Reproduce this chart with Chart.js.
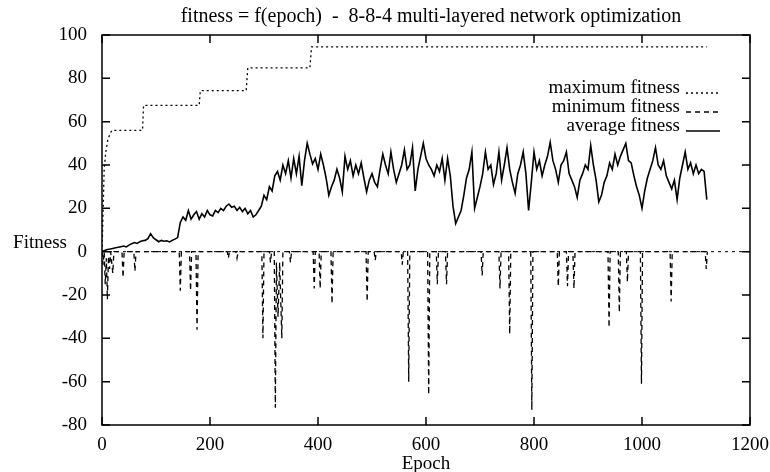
<!DOCTYPE html>
<html>
<head>
<meta charset="utf-8">
<script src="https://cdn.jsdelivr.net/npm/chart.js@4.4.0/dist/chart.umd.min.js"></script>
<style>
  html, body { margin: 0; padding: 0; background: #fff; }
  #wrap { width: 770px; height: 472px; position: relative; }
</style>
</head>
<body>
<div id="wrap"><canvas id="fitChart"></canvas></div>
<script>
// average fitness, one value every 5 epochs (0 .. 1120)
var avgStep = 5;
var avgFitness = [
  0, 0.5, 1, 1.2, 1.5, 1.8, 2, 2.3, 2.6, 2.2, 3, 3.7, 4.2, 3.8, 4.6, 5, 5.2, 6, 8.3, 6.5,
  5.5, 4.6, 5.2, 4.8, 5, 4.5, 5.2, 5.8, 6.5, 13.5, 16, 14.5, 19, 15, 17, 18.5, 15, 17.5, 16, 19,
  17, 16.5, 19, 18, 20, 19, 21, 22, 20.5, 21, 19, 20.5, 18.5, 20, 17.5, 19, 16, 17, 19, 21,
  26, 24, 30, 28, 35, 37, 33, 40, 36, 42, 34, 43, 36, 44, 30.5, 42, 50, 45, 40.5, 43,
  38, 45, 40, 34, 26, 30, 33, 38, 34, 27.6, 44, 38, 42, 35, 40, 36, 41, 34, 27.6, 33,
  36, 32, 30, 38, 45, 40, 36, 46, 38, 32, 36, 40, 47, 38, 40, 48, 28, 38, 44, 50,
  43, 40, 38, 35, 40, 37, 43, 33, 43, 35, 21, 13, 16, 19, 26, 34, 38, 46, 20, 25,
  30, 36, 46, 38, 40, 31, 36, 46, 33, 40, 48, 38, 32, 27, 36, 40, 46, 36, 19, 32,
  46, 38, 42, 35, 40, 44, 50.5, 42, 38, 32, 40, 42, 46, 36, 33, 30, 25, 33, 36, 40,
  38, 49, 40, 33, 23, 26, 32, 35, 41, 38, 45, 40, 44, 47, 50, 42, 41, 35, 30, 26,
  20, 28, 34, 38, 42, 48, 40, 38, 42, 35, 32, 29, 33, 24, 34, 40, 46, 38, 41, 36,
  40, 36, 38, 37, 24
];

// maximum fitness (step curve)
var maxEpoch   = [0, 2, 4, 7, 11, 18, 75, 77, 180, 182, 267, 270, 385, 388, 1120];
var maxFitness = [0, 18, 38, 46, 52, 56, 56, 67.5, 67.5, 74.3, 74.3, 84.8, 84.8, 94.5, 94.5];

// minimum fitness (mostly 0 with downward spikes)
var minEpoch = [
  0, 2, 4, 6, 8, 10, 12, 14, 16, 20, 22,
  37, 39, 41,   59, 61, 63,   143, 145, 147,   162, 164, 166,   174, 176, 178,
  232, 234, 236,   248, 250, 252,   296, 298, 300,   310, 312, 314,
  319, 321, 323, 326, 329, 333, 335,
  347, 349, 351,   391, 393, 395,   402, 404, 406,   424, 426, 428,
  489, 491, 493,   504, 506, 508,   554, 556, 558,   566, 568, 570,
  603, 605, 607,   619, 621, 623,   636, 638, 640,   702, 704, 706,
  735, 737, 739,   753, 755, 757,   794, 796, 798,   843, 845, 847,
  860, 862, 864,   872, 874, 876,   937, 939, 941,   956, 958, 960,
  971, 973, 975,   997, 999, 1001,   1052, 1054, 1056,   1117, 1119, 1121
];
var minFitness = [
  0, -6, 0, -15, -3, -22, -2, -8, 0, -10, 0,
  0, -12, 0,   0, -9, 0,   0, -18, 0,   0, -18, 0,   0, -36, 0,
  0, -3, 0,   0, -3, 0,   0, -40, 0,   0, -5, 0,
  0, -72, -5, -30, -5, -40, 0,
  0, -5, 0,   0, -17, 0,   0, -17, 0,   0, -24, 0,
  0, -23, 0,   0, -4, 0,   0, -6, 0,   0, -60, 0,
  0, -66, 0,   0, -15, 0,   0, -15, 0,   0, -11, 0,
  0, -17, 0,   0, -38, 0,   0, -73, 0,   0, -16, 0,
  0, -16, 0,   0, -17, 0,   0, -35, 0,   0, -28, 0,
  0, -14, 0,   0, -61, 0,   0, -23, 0,   0, -8, 0
];

var xTicks = [0, 200, 400, 600, 800, 1000, 1200];
var yTicks = [-80, -60, -40, -20, 0, 20, 40, 60, 80, 100];
var legendNames = ["maximum fitness", "minimum fitness", "average fitness"];

var serif = '"Liberation Serif", "DejaVu Serif", serif';

function pts(xs, ys) {
  var out = [];
  for (var i = 0; i < ys.length; i++) out.push({x: xs[i], y: ys[i]});
  return out;
}
var avgPts = avgFitness.map(function (v, i) { return {x: i * avgStep, y: v}; });

var dashes = [[2, 3], [5, 4], []];

var framePlugin = {
  id: "frame",
  beforeDraw: function (chart) {
    var ctx = chart.ctx;
    ctx.save();
    ctx.fillStyle = "#fff";
    ctx.fillRect(0, 0, chart.width, chart.height);
    ctx.restore();
  },
  beforeDatasetsDraw: function (chart) {
    var ctx = chart.ctx, a = chart.chartArea, y0 = chart.scales.y.getPixelForValue(0);
    ctx.save();
    ctx.strokeStyle = "#000";
    ctx.lineWidth = 1;
    ctx.setLineDash([3, 4]);
    ctx.beginPath();
    ctx.moveTo(a.left, y0);
    ctx.lineTo(a.right, y0);
    ctx.stroke();
    ctx.restore();
  },
  afterDraw: function (chart) {
    var ctx = chart.ctx, a = chart.chartArea;
    var xs = chart.scales.x, ys = chart.scales.y;
    ctx.save();
    ctx.strokeStyle = "#000";
    ctx.lineWidth = 1.5;
    ctx.setLineDash([]);
    ctx.strokeRect(a.left, a.top, a.right - a.left, a.bottom - a.top);
    ctx.beginPath();
    xTicks.forEach(function (t) {
      var px = xs.getPixelForValue(t);
      ctx.moveTo(px, a.bottom); ctx.lineTo(px, a.bottom - 8);
      ctx.moveTo(px, a.top); ctx.lineTo(px, a.top + 8);
    });
    yTicks.forEach(function (t) {
      var py = ys.getPixelForValue(t);
      ctx.moveTo(a.left, py); ctx.lineTo(a.left + 8, py);
      ctx.moveTo(a.right, py); ctx.lineTo(a.right - 8, py);
    });
    ctx.stroke();

    ctx.fillStyle = "#000";
    ctx.font = "20px " + serif;
    ctx.textAlign = "center";
    ctx.textBaseline = "middle";
    ctx.fillText("fitness = f(epoch)  -  8-8-4 multi-layered network optimization", 431, 17);
    ctx.font = "19px " + serif;
    ctx.fillText("Fitness", 40, 243);

    // legend
    var rows = [88, 107, 126];
    ctx.textAlign = "right";
    for (var i = 0; i < legendNames.length; i++) {
      ctx.fillText(legendNames[i], 680, rows[i]);
      ctx.setLineDash(dashes[i]);
      ctx.lineWidth = 1.3;
      ctx.beginPath();
      ctx.moveTo(686, rows[i] + 5);
      ctx.lineTo(720, rows[i] + 5);
      ctx.stroke();
    }
    ctx.restore();
  }
};

new Chart("fitChart", {
  type: "line",
  data: {
    datasets: [
      {label: "maximum fitness", data: pts(maxEpoch, maxFitness), borderColor: "#000",
       borderWidth: 1.3, borderDash: [2, 3], pointRadius: 0, fill: false, tension: 0},
      {label: "minimum fitness", data: pts(minEpoch, minFitness), borderColor: "#000",
       borderWidth: 1.3, borderDash: [5, 4], pointRadius: 0, fill: false, tension: 0},
      {label: "average fitness", data: avgPts, borderColor: "#000",
       borderWidth: 1.6, pointRadius: 0, fill: false, tension: 0}
    ]
  },
  options: {
    responsive: true,
    maintainAspectRatio: false,
    animation: false,
    layout: {padding: {top: 35, right: 20, left: 0, bottom: 0}},
    plugins: {legend: {display: false}, title: {display: false}, tooltip: {enabled: false}},
    scales: {
      x: {
        type: "linear", min: 0, max: 1200,
        grid: {display: false}, border: {display: false},
        ticks: {stepSize: 200, color: "#000", padding: 1, maxRotation: 0,
                callback: function (v) { return String(v); },
                font: {family: serif, size: 19}},
        title: {display: true, text: "Epoch", color: "#000", padding: {top: 0, bottom: -3},
                font: {family: serif, size: 19}},
        afterFit: function (s) { s.height = 47; }
      },
      y: {
        min: -80, max: 100,
        grid: {display: false}, border: {display: false},
        ticks: {stepSize: 20, color: "#000", padding: 7,
                callback: function (v) { return String(v); },
                font: {family: serif, size: 19}},
        afterFit: function (s) { s.width = 102; }
      }
    }
  },
  plugins: [framePlugin]
});
</script>
</body>
</html>
